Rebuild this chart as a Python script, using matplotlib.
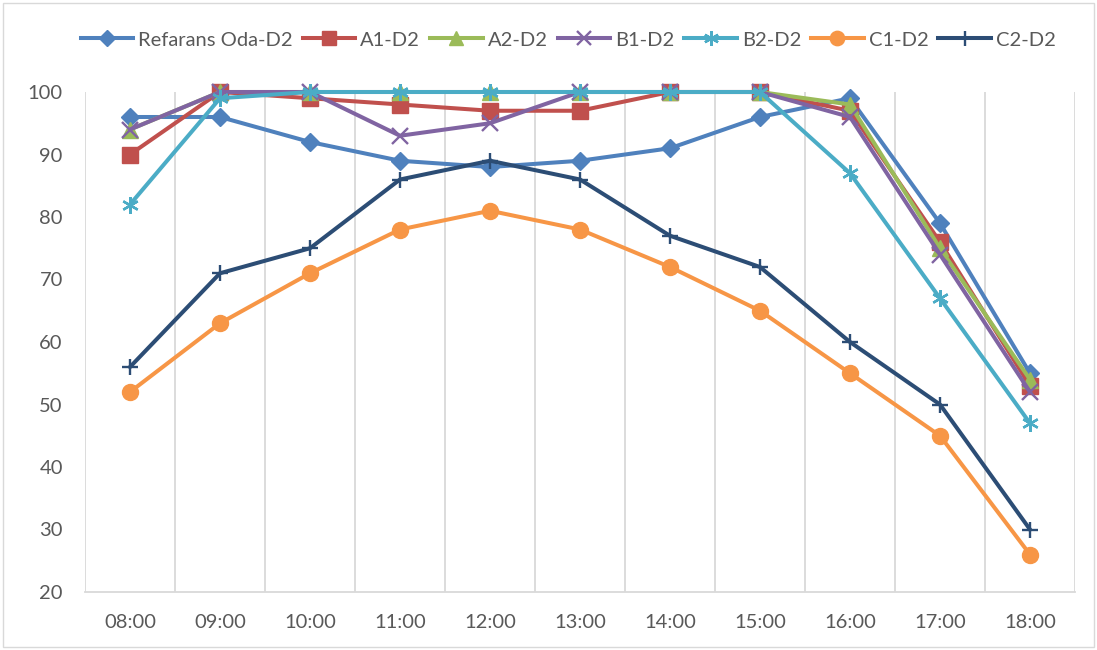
import matplotlib
matplotlib.use("Agg")
import matplotlib.pyplot as plt
from matplotlib.patches import Rectangle

hours = ["08:00", "09:00", "10:00", "11:00", "12:00", "13:00", "14:00", "15:00", "16:00", "17:00", "18:00"]
ref = [96, 96, 92, 89, 88, 89, 91, 96, 99, 79, 55]
a1 = [90, 100, 99, 98, 97, 97, 100, 100, 97, 76, 53]
a2 = [94, 100, 100, 100, 100, 100, 100, 100, 98, 75, 54]
b1 = [94, 100, 100, 93, 95, 100, 100, 100, 96, 74, 52]
b2 = [82, 99, 100, 100, 100, 100, 100, 100, 87, 67, 47]
c1 = [52, 63, 71, 78, 81, 78, 72, 65, 55, 45, 26]
c2 = [56, 71, 75, 86, 89, 86, 77, 72, 60, 50, 30]
names = ["Refarans Oda-D2", "A1-D2", "A2-D2", "B1-D2", "B2-D2", "C1-D2", "C2-D2"]
y_ticks = [20, 30, 40, 50, 60, 70, 80, 90, 100]

plt.rcParams['font.family'] = ['Lato', 'DejaVu Sans']

series = [ref, a1, a2, b1, b2, c1, c2]
colors = ["#4F81BD", "#C0504D", "#9BBB59", "#8064A2", "#4BACC6", "#F79646", "#2C4D75"]
markers = ["D", "s", "^", "x", (6, 2, 0), "o", "+"]
msizes = [9.5, 11.5, 11, 11, 12, 11.5, 12]
mew = [1, 1, 1, 1.7, 1.7, 1, 1.7]

fig = plt.figure(figsize=(10.97, 6.5), dpi=100)
ax = fig.add_axes([85/1097, 1-592/650, (1075-85)/1097, (592-92)/650])
x = list(range(len(hours)))
for s, n, c, m, ms, mw in zip(series, names, colors, markers, msizes, mew):
    ax.plot(x, s, color=c, lw=2.9, marker=m, markersize=ms, markeredgewidth=mw,
            markeredgecolor=c, markerfacecolor=c, label=n, clip_on=False, zorder=3)

ax.set_xlim(-0.5, len(hours) - 0.5)
ax.set_ylim(20, 100)
ax.set_yticks(y_ticks)
ax.set_xticks(x)
ax.set_xticklabels(hours)
ax.set_xticks([i - 0.5 for i in range(len(hours) + 1)], minor=True)
ax.grid(which='minor', axis='x', color='#D9D9D9', lw=1.3)
ax.grid(which='major', visible=False)
ax.tick_params(which='both', length=0)
ax.tick_params(axis='x', pad=16, labelsize=14.5, labelcolor='#595959')
ax.tick_params(axis='y', pad=16, labelsize=14.5, labelcolor='#595959')
for sp in ['top', 'right', 'left']:
    ax.spines[sp].set_visible(False)
ax.spines['bottom'].set_color('#D9D9D9')
ax.spines['bottom'].set_linewidth(1.3)

leg = fig.legend(loc='center', bbox_to_anchor=(0.518, 1-40/650), ncol=7, frameon=False,
                 fontsize=14.5, handlelength=2.6, handletextpad=0.25, columnspacing=0.5,
                 borderaxespad=0, markerscale=0.9)
for t in leg.get_texts():
    t.set_color('#595959')

fig.patches.append(Rectangle((0.003, 0.004), 0.994, 0.992, transform=fig.transFigure,
                             fill=False, edgecolor='#D9D9D9', lw=1))
fig.savefig("out.png", dpi=100)
